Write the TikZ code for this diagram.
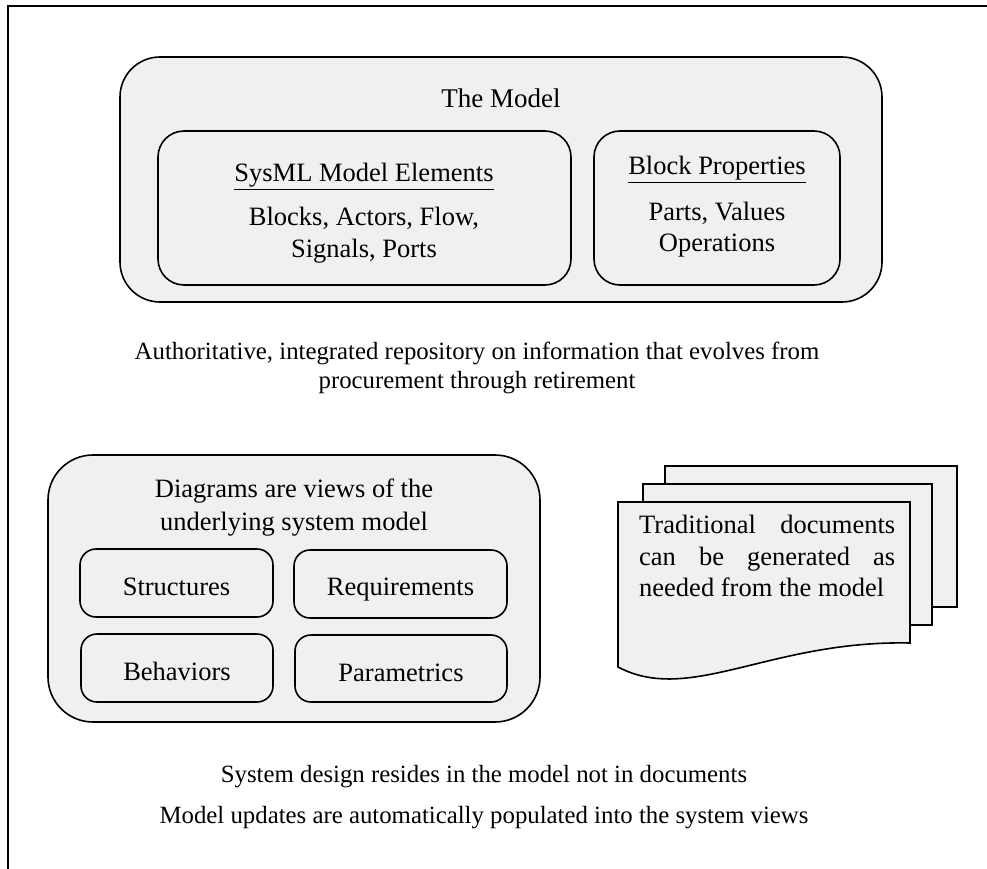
\documentclass[tikz,border=0pt]{standalone}
\usepackage{fontspec}
\setmainfont{Liberation Serif}
\begin{document}
\begin{tikzpicture}[x=1pt,y=-1pt,
  txt/.style={font=\fontsize{24.8}{29}\selectfont, inner sep=0pt, align=center},
  boxtxt/.style={font=\fontsize{26.5}{31.5}\selectfont, inner sep=0pt, align=center},
  panel/.style={draw=black, line width=1.6pt, fill=boxgray},
  page/.style={draw=black, line width=1.6pt, fill=boxgray},
  frameline/.style={draw=black, line width=2.2pt}]
\definecolor{boxgray}{HTML}{F0F0F0}
\useasboundingbox (0,0) rectangle (987,869);

% open frame around the figure
\coordinate (fbl) at (8,869);
\coordinate (ftl) at (8,6);
\coordinate (ftr) at (987,6);
\draw[frameline] (fbl) -- (ftl) -- (ftr);

% the model
\node[panel, rounded corners=40pt, minimum width=762pt, minimum height=245pt] (model) at (501,179.5) {};
\node[boxtxt, font=\fontsize{27}{32}\selectfont, anchor=base] (modeltitle) at (501,108) {The Model};
\node[panel, rounded corners=26pt, minimum width=413pt, minimum height=154pt] (sysml) at (364.5,208) {};
\node[boxtxt, anchor=base] (sysmltitle) at (364,182) {\underline{SysML Model Elements}};
\node[boxtxt] (sysmlbody) at (364,235) {Blocks, Actors, Flow,\\Signals, Ports};
\node[panel, rounded corners=26pt, minimum width=246pt, minimum height=154pt] (blockprops) at (717,208) {};
\node[boxtxt, anchor=base] (blocktitle) at (717,175) {\underline{Block Properties}};
\node[boxtxt, font=\fontsize{26.5}{31}\selectfont] (blockbody) at (717,229.5) {Parts, Values\\Operations};

\node[txt] (repo) at (477,368) {Authoritative, integrated repository on information that evolves from\\procurement through retirement};

% diagrams
\node[panel, rounded corners=45pt, minimum width=492pt, minimum height=267pt] (diagrams) at (294,588.5) {};
\node[boxtxt, font=\fontsize{26.5}{32.5}\selectfont] (diagtitle) at (294,507.5) {Diagrams are views of the\\underlying system model};
\node[panel, rounded corners=16pt, minimum width=193pt, minimum height=68pt] (structures) at (176.5,583) {};
\node[boxtxt, anchor=base] at (176.5,595) {Structures};
\node[panel, rounded corners=16pt, minimum width=213pt, minimum height=68pt] (requirements) at (400.5,584) {};
\node[boxtxt, anchor=base] at (400.5,595) {Requirements};
\node[panel, rounded corners=16pt, minimum width=192pt, minimum height=68pt] (behaviors) at (177,668) {};
\node[boxtxt, anchor=base] at (177,680) {Behaviors};
\node[panel, rounded corners=16pt, minimum width=212pt, minimum height=67pt] (parametrics) at (401,668.5) {};
\node[boxtxt, anchor=base] at (401,681) {Parametrics};

% stacked documents
\draw[page] (665,466) rectangle (957,607);
\draw[page] (643,484) rectangle (932,625);
\draw[page] (618,502) -- (910,502) -- (910,643)
  .. controls (770,640) and (690,705) .. (618,667) -- cycle;
\node[boxtxt, align=left, anchor=north west] (docs) at (639,515) {%
  \makebox[256pt][s]{Traditional documents}\\
  \makebox[256pt][s]{can be generated as}\\
  needed from the model};

% closing statements
\node[txt, anchor=base] (design) at (484,782) {System design resides in the model not in documents};
\node[txt, anchor=base] (updates) at (484,823) {Model updates are automatically populated into the system views};
\end{tikzpicture}
\end{document}
